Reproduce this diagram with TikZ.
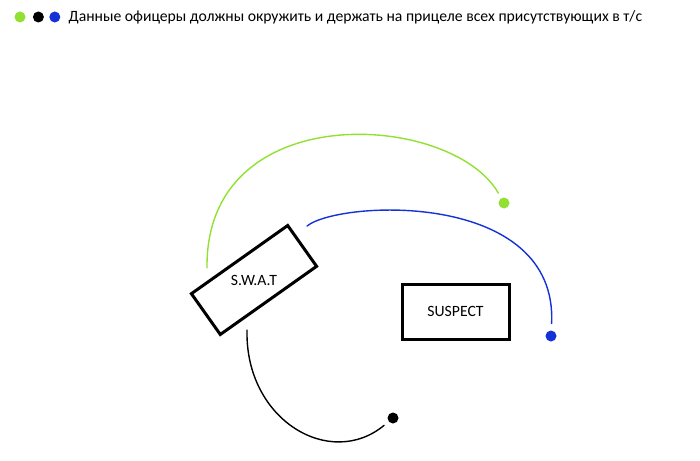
\documentclass[tikz,border=0pt]{standalone}
\usepackage{fontspec}
\setmainfont{Carlito}
\usetikzlibrary{positioning}

\definecolor{limegreen}{RGB}{146,224,50}
\definecolor{teamblue}{RGB}{20,50,215}

\tikzset{
  dot/.style={circle, fill, inner sep=0pt, minimum size=11pt},
  vehicle/.style={draw, line width=3pt, inner sep=0pt},
  track/.style={line width=1.4pt, line cap=round}
}

\begin{document}
\begin{tikzpicture}[x=1pt, y=-1pt, font=\fontsize{15.7}{18}\selectfont]
   \useasboundingbox (0,0) rectangle (700,460);

   % legend
   \node[dot, fill=limegreen] (legend_g) at (20,17) {};
   \node[dot, fill=black] (legend_k) [right=7pt of legend_g] {};
   \node[dot, fill=teamblue] (legend_b) [right=5pt of legend_k] {};
   \node[anchor=west, inner sep=0pt] (legend_text) [right=8pt of legend_b]
      {Данные офицеры должны окружить и держать на прицеле всех присутствующих в т/с};

   % cars
   \node[vehicle, rotate=35.3, minimum width=118pt, minimum height=50pt] (swat) at (254,280) {};
   \node (swat_label) at (swat.center) {S.W.A.T};
   \node[vehicle, minimum width=107pt, minimum height=55pt] (suspect) at (455.5,311.5) {SUSPECT};

   % officers
   \node[dot, fill=limegreen, outer sep=6pt] (dot_g) at (504,203) {};
   \node[dot, fill=teamblue, outer sep=7pt] (dot_b) at (551,336) {};
   \node[dot, fill=black, outer sep=6pt] (dot_k) at (393,418) {};

   \coordinate (start_g) at (207,268);
   \coordinate (start_b) at (307,226);
   \coordinate (start_k) at (247,330);

   \draw[track, limegreen] (start_g) .. controls (205,96) and (452,112) .. (dot_g);
   \draw[track, teamblue] (start_b) .. controls (340,200) and (558,190) .. (dot_b);
   \draw[track, black] (start_k) .. controls (245,420) and (330,470) .. (dot_k);
\end{tikzpicture}
\end{document}
